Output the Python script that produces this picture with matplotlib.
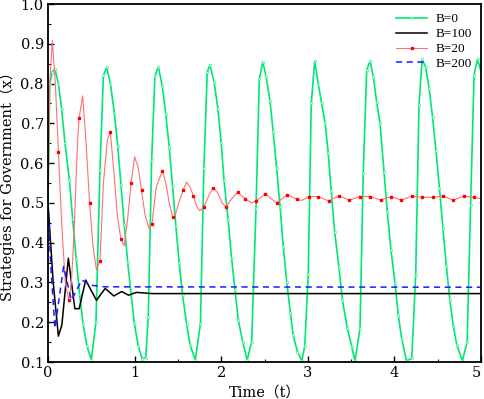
import numpy as np
import matplotlib
matplotlib.use('Agg')
import matplotlib.pyplot as plt
from matplotlib.ticker import MultipleLocator

# B=0 (green) - sustained oscillation
green_t = [0.0, 0.02, 0.05, 0.08, 0.12, 0.158, 0.196, 0.246, 0.285, 0.325, 0.365, 0.405, 0.45, 0.50,
           0.554, 0.60, 0.64, 0.678,
           0.72, 0.766, 0.805, 0.843, 0.881, 0.92, 0.958, 0.997, 1.043, 1.089,
           1.128, 1.158, 1.197, 1.235, 1.274,
           1.32, 1.36, 1.40, 1.438, 1.476, 1.515, 1.554, 1.60, 1.64, 1.70,
           1.76, 1.80, 1.839, 1.87,
           1.917, 1.963, 2.0, 2.032, 2.08, 2.12, 2.16, 2.197, 2.248, 2.30,
           2.352, 2.402, 2.44, 2.48,
           2.517, 2.563, 2.60, 2.64, 2.68, 2.717, 2.756, 2.80, 2.83, 2.88, 2.93,
           2.965, 3.005, 3.04, 3.08,
           3.12, 3.16, 3.20, 3.236, 3.27, 3.31, 3.36, 3.40, 3.456, 3.507, 3.545,
           3.603, 3.64, 3.68, 3.72,
           3.757, 3.795, 3.834, 3.88, 3.918, 3.96, 4.007, 4.045, 4.084, 4.14,
           4.20, 4.246, 4.284, 4.32,
           4.36, 4.40, 4.44, 4.48, 4.52, 4.56, 4.60, 4.64, 4.68, 4.72, 4.785,
           4.84, 4.88, 4.92, 4.96, 5.0]
green_x = [0.50, 0.80, 0.83, 0.836, 0.80, 0.735, 0.651, 0.558, 0.459, 0.36, 0.27, 0.195, 0.14, 0.106,
           0.201, 0.583, 0.821, 0.841,
           0.80, 0.727, 0.643, 0.545, 0.444, 0.352, 0.273, 0.197, 0.139, 0.108,
           0.111, 0.214, 0.608, 0.82, 0.842,
           0.794, 0.723, 0.640, 0.543, 0.443, 0.348, 0.268, 0.196, 0.143, 0.105,
           0.196, 0.587, 0.83, 0.847,
           0.805, 0.735, 0.65, 0.558, 0.457, 0.361, 0.28, 0.206, 0.151, 0.105,
           0.151, 0.486, 0.811, 0.855,
           0.819, 0.757, 0.679, 0.587, 0.49, 0.39, 0.302, 0.222, 0.168, 0.126, 0.103,
           0.14, 0.32, 0.75, 0.857,
           0.80, 0.75, 0.70, 0.625, 0.53, 0.428, 0.336, 0.256, 0.185, 0.139, 0.103,
           0.185, 0.574, 0.834, 0.857,
           0.816, 0.754, 0.70, 0.578, 0.478, 0.382, 0.298, 0.218, 0.159, 0.103,
           0.109, 0.319, 0.746, 0.861,
           0.842, 0.79, 0.717, 0.631, 0.537, 0.436, 0.341, 0.256, 0.191, 0.143, 0.103,
           0.151, 0.495, 0.822, 0.861, 0.83]

# B=100 (black)
black_t = [0.0, 0.06, 0.12, 0.16, 0.235, 0.31, 0.36, 0.435, 0.56, 0.66, 0.76, 0.85, 0.93, 1.02, 1.2, 5.0]
black_x = [0.50, 0.30, 0.165, 0.193, 0.361, 0.234, 0.234, 0.306, 0.255, 0.285, 0.266, 0.277, 0.268, 0.275, 0.272, 0.272]

# B=20 (red)
red_t = [0.0, 0.02, 0.05, 0.085, 0.12, 0.16, 0.20, 0.24, 0.27, 0.30, 0.34, 0.36, 0.40, 0.44, 0.48,
         0.52, 0.56, 0.60, 0.64, 0.685, 0.72, 0.76, 0.80, 0.84, 0.88, 0.92, 0.96, 1.0, 1.04, 1.08,
         1.12, 1.17, 1.20, 1.25, 1.32, 1.36, 1.40, 1.44, 1.46, 1.51, 1.56, 1.60, 1.64, 1.68, 1.72,
         1.755, 1.80, 1.86, 1.91, 1.96, 2.01, 2.055, 2.12, 2.19, 2.28, 2.35, 2.40, 2.51, 2.58, 2.64,
         2.70, 2.76, 2.88, 2.93, 3.01, 3.12, 3.24, 3.36, 3.48, 3.60, 3.72, 3.84, 3.96, 4.08, 4.20,
         4.32, 4.44, 4.56, 4.68, 4.80, 4.92, 5.0]
red_x = [0.50, 0.80, 0.908, 0.80, 0.629, 0.44, 0.30, 0.256, 0.30, 0.42, 0.65, 0.714, 0.769, 0.65, 0.50,
         0.39, 0.331, 0.354, 0.55, 0.658, 0.677, 0.58, 0.47, 0.41, 0.392, 0.46, 0.551, 0.616, 0.59, 0.532,
         0.47, 0.434, 0.447, 0.54, 0.58, 0.55, 0.50, 0.465, 0.463, 0.50, 0.532, 0.552, 0.54, 0.517, 0.49,
         0.480, 0.490, 0.52, 0.538, 0.525, 0.50, 0.490, 0.51, 0.527, 0.51, 0.50, 0.505, 0.522, 0.51, 0.50,
         0.51, 0.52, 0.509, 0.506, 0.516, 0.516, 0.505, 0.518, 0.507, 0.516, 0.516, 0.507, 0.516, 0.507, 0.517,
         0.514, 0.514, 0.517, 0.507, 0.517, 0.514, 0.51]
red_marks = [0.12, 0.24, 0.36, 0.48, 0.60, 0.72, 0.84, 0.96, 1.08, 1.20, 1.32, 1.44, 1.56, 1.68, 1.80,
             1.91, 2.055, 2.19, 2.28, 2.40, 2.51, 2.64, 2.76, 2.88, 3.01, 3.12, 3.24, 3.36, 3.48, 3.60,
             3.72, 3.84, 3.96, 4.08, 4.20, 4.32, 4.44, 4.56, 4.68, 4.80, 4.92]

# B=200 (blue dashed)
blue_t = [0.0, 0.03, 0.08, 0.18, 0.27, 0.39, 0.5, 0.65, 5.0]
blue_x = [0.50, 0.35, 0.185, 0.34, 0.255, 0.306, 0.293, 0.289, 0.288]

x_ticks = [0, 1, 2, 3, 4, 5]

serif = ['DejaVu Serif', 'Noto Sans CJK SC']
plt.rcParams['font.family'] = serif
plt.rcParams['font.size'] = 10

fig = plt.figure(figsize=(4.84, 3.99), dpi=100)
ax = fig.add_axes([48/484, 1-362/399, 433/484, 358/399])

ax.plot(green_t, green_x, '-', color='#00e676', lw=1.2, marker='s', markersize=1.9,
        markerfacecolor='white', markeredgecolor='#4aee95', markeredgewidth=0.5, label='B=0')
ax.plot(black_t, black_x, '-', color='black', lw=1.1, label='B=100')
red_idx = [i for i, t in enumerate(red_t) if np.isclose(red_marks, t).any()]
ax.plot(red_t, red_x, '-', color='#ff7070', lw=0.8, marker='s', markersize=1.9,
        markevery=red_idx, markerfacecolor='#ff0000', markeredgecolor='#ff0000', label='B=20')
ax.plot(blue_t, blue_x, '--', color='#1a1aff', lw=1.1, dashes=(4, 3), label='B=200')

ax.set_xlim(0, 5)
ax.set_ylim(0.1, 1.0)
ax.set_xticks(x_ticks, [str(t) for t in x_ticks])
ax.xaxis.set_minor_locator(MultipleLocator(0.5))
ax.yaxis.set_major_locator(MultipleLocator(0.1))
ax.yaxis.set_minor_locator(MultipleLocator(0.05))
ax.tick_params(which='both', direction='in', top=False, right=False, labelsize=10.5, pad=3)
ax.tick_params(which='major', length=4, width=1)
ax.tick_params(which='minor', length=2.5, width=0.8)
ax.yaxis.set_major_formatter(plt.FuncFormatter(lambda v, p: f'{v:.1f}'))
for s in ax.spines.values():
    s.set_linewidth(1.3)
# keep the "5" inside the picture
ax.xaxis.get_major_ticks()[-1].label1.set_horizontalalignment('right')

ax.set_xlabel('Time（t）', labelpad=4, fontsize=10.5)
ax.set_ylabel('Strategies for Government（x）', labelpad=4, fontsize=10.5)

leg = ax.legend(loc='upper right', frameon=False, handlelength=2.4, handletextpad=0.6,
                labelspacing=0.2, borderaxespad=0.3,
                prop={'family': ['Liberation Serif', 'DejaVu Serif'], 'size': 9.5})

plt.savefig('out.png', dpi=100)
plt.close()
